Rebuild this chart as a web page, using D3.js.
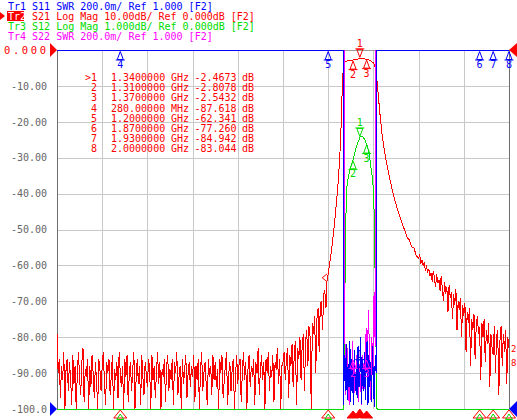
<!DOCTYPE html>
<html><head><meta charset="utf-8">
<script src="https://cdn.jsdelivr.net/npm/d3@7"></script>
<style>html,body{margin:0;padding:0;background:#fff}svg{display:block}text{font-family:"DejaVu Sans Mono",monospace}</style>
</head><body><svg id="c" width="517" height="420"></svg>
<script>
// ---------- data ----------
const freqGrid = [200,400,600,800,1000,1200,1400,1600,1800];
const dbTicks = [0,-10,-20,-30,-40,-50,-60,-70,-80,-90,-100];
const dbTickLabels = ["0.000","-10.00","-20.00","-30.00","-40.00","-50.00","-60.00","-70.00","-80.00","-90.00","-100.0"];

const headerText = ["Tr1 S11 SWR 200.0m/ Ref 1.000 [F2]","Tr2 S21 Log Mag 10.00dB/ Ref 0.000dB [F2]","Tr3 S12 Log Mag 1.000dB/ Ref 0.000dB [F2]","Tr4 S22 SWR 200.0m/ Ref 1.000 [F2]"];

const markerIds = [">1","2","3","4","5","6","7","8"];
const markerFreq = [1340,1310,1370,280,1200,1870,1930,2000];
const markerStim = ["1.3400000","1.3100000","1.3700000","280.00000","1.2000000","1.8700000","1.9300000","2.0000000"];
const markerUnit = ["GHz","GHz","GHz","MHz","GHz","GHz","GHz","GHz"];
const markerValText = ["-2.4673","-2.8078","-2.5432","-87.618","-62.341","-77.260","-84.942","-83.044"];
const markerDb = [-2.4673,-2.8078,-2.5432,-87.618,-62.341,-77.260,-84.942,-83.044];

// S21 noise floor 0..995 MHz, 5 MHz step
const s21LowDb = [
-79,-90,-86,-97,-88,-92,-84,-100,-89,-86,-95,-87,-91,-99,-85,-93,-88,-101,-90,-84,
-92,-96,-87,-83,-98,-89,-91,-86,-100,-88,-94,-85,-90,-97,-87,-92,-102,-86,-89,-95,
-88,-84,-93,-99,-87,-90,-86,-96,-91,-85,-100,-89,-92,-87,-97,-84,-90,-94,-88,-101,
-86,-91,-85,-98,-90,-87,-95,-89,-84,-100,-92,-86,-93,-88,-99,-85,-91,-96,-87,-90,
-94,-86,-89,-100,-85,-92,-88,-97,-90,-84,-93,-87,-102,-89,-91,-86,-98,-88,-85,-95,
-89,-92,-86,-99,-87,-90,-84,-96,-91,-88,-101,-86,-93,-89,-85,-97,-90,-87,-94,-88,
-91,-85,-98,-88,-92,-86,-100,-89,-84,-95,-90,-87,-93,-99,-86,-91,-88,-96,-85,-92,
-87,-94,-89,-101,-86,-90,-85,-97,-92,-88,-84,-99,-90,-87,-95,-89,-86,-100,-91,-85,
-93,-88,-86,-98,-90,-84,-92,-87,-100,-89,-85,-94,-88,-91,-86,-99,-87,-90,-83,-96,
-89,-85,-92,-87,-100,-86,-90,-84,-95,-88,-91,-85,-98,-87,-89,-83,-93,-86,-101,-88];
// S21 rising region 1000..1195 MHz, 5 MHz step
const s21RiseDb = [-87,-84,-92,-86,-83,-97,-85,-88,-82,-94,-84,-81,-99,-83,-86,-80,-92,-82,-79,-95,
-81,-78,-88,-77,-80,-100,-76,-79,-74,-90,-75,-72,-84,-71,-70,-78,-68,-67,-72,-64];
// S21 filter band
const s21BandF = [1200,1205,1210,1215,1220,1225,1230,1235,1240,1245,1250,1255,1258,1261,1264,1267,1270,1275,1280,1290,1300,1310,1320,1330,1340,1350,1360,1370,1380,1390,1400,1405,1410,1415,1420,1425,1430,1435,1440,1450,1460,1470,1480,1490,1500,1510,1520,1530,1540,1550,1560,1570,1580,1590];
const s21BandDb = [-62.34,-60,-58,-55.5,-53,-50,-47,-43.5,-40,-36,-31,-25,-19,-13,-8,-5,-3.8,-3.3,-3.1,-2.95,-2.88,-2.81,-2.65,-2.52,-2.47,-2.46,-2.5,-2.54,-2.75,-3.1,-3.6,-4.2,-5.5,-8,-11.5,-15,-18.5,-21.5,-24.3,-28.6,-32,-35.2,-38,-40.6,-43,-45,-47,-48.8,-50.5,-52.3,-53,-54.9,-55.2,-57.4];
// S21 upper stopband 1600..2000 MHz, 5 MHz step
const s21HighDb = [
-58,-57,-59.5,-58.5,-60,-59,-61.5,-60,-62,-61,-63,-62,-64.5,-61.5,-63.5,-66,-62.5,-65,-64,-67,
-63,-66.5,-70,-64.5,-68,-66,-73,-65.5,-69,-67.5,-75,-68,-71,-66.5,-78,-70,-72.5,-69,-80,-71,
-74,-70.5,-84,-73,-76,-72,-88,-75,-78,-73.5,-86,-77,-74,-79,-77.26,-92,-76,-80,-75,-87,
-78,-82,-76,-94,-79,-83,-84.94,-77,-90,-80,-78,-96,-81,-77,-88,-79,-84,-78,-93,-80,-83.04];

// S12 (1 dB/div)
const s12F = [0,1000,1250,1262,1268,1272,1276,1279,1283,1290,1296,1303,1310,1320,1330,1341,1348,1354,1362,1372,1380,1385,1392,1398,1403,1406,1409,1412,1416,1430,2000];
const s12Db = [-85,-80,-30,-15,-10.5,-7.5,-5.8,-4.46,-3.8,-3.5,-3.34,-3.2,-3.06,-2.8,-2.6,-2.42,-2.4,-2.43,-2.5,-2.65,-2.85,-3.06,-3.4,-3.7,-4.46,-5.5,-7,-8.5,-11,-30,-83];

// S11 SWR
const s11F = [0,1000,1260,1266,1268,1272,1276,1280,1284,1288,1292,1296,1300,1304,1308,1312,1316,1320,1324,1328,1332,1336,1340,1344,1348,1352,1356,1360,1364,1368,1372,1376,1380,1384,1388,1392,1396,1400,1404,1408,1412,1414,1420,2000];
const s11Swr = [8,12,6,4,1.02,1.3,1.1,1.36,1.05,1.25,1.12,1.38,1.04,1.28,1.15,1.02,1.33,1.1,1.22,1.06,1.35,1.12,1.16,1.4,1.03,1.27,1.1,1.32,1.05,1.24,1.38,1.02,1.3,1.12,1.26,1.04,1.35,1.15,1.01,1.3,1.2,4,8,10];

// S22 SWR
const s22F = [0,1000,1262,1271,1272,1275,1278,1283,1288,1293,1298,1303,1308,1313,1318,1323,1328,1333,1338,1343,1348,1353,1358,1363,1368,1373,1378,1383,1388,1393,1398,1403,1408,1411,1420,2000];
const s22Swr = [9,11,7,4,1.6,1.3,1.08,1.35,1.15,1.02,1.28,1.1,1.38,1.05,1.22,1.12,1.32,1.04,1.25,1.15,1.02,1.3,1.1,1.2,1.45,1.25,1.55,1.3,1.05,1.4,1.2,1.65,1.35,4,8,10];

// ---------- build series ----------
const zip = (f, v) => f.slice(0, Math.min(f.length, v.length)).map((ff, i) => ({f: ff, v: v[i]}));
const s21 = [].concat(
  zip(d3.range(0, 1000, 5), s21LowDb),
  zip(d3.range(1000, 1200, 5), s21RiseDb),
  zip(s21BandF, s21BandDb),
  zip(d3.range(1600, 2001, 5), s21HighDb));
const s12 = zip(s12F, s12Db);
const s11 = zip(s11F, s11Swr);
const s22 = zip(s22F, s22Swr);

function interp(series, f) {
  const i = d3.bisector(d => d.f).left(series, f);
  if (i <= 0) return series[0].v;
  if (i >= series.length) return series[series.length - 1].v;
  const a = series[i - 1], b = series[i];
  return a.v + (b.v - a.v) * (f - a.f) / (b.f - a.f);
}

// ---------- drawing ----------
const L = 57, R = 509, T = 50, B = 409;
const BLUE = "#0000ff", RED = "#ff0000", GREEN = "#00dc00", MAG = "#ff00ff";
const svg = d3.select("#c");
const x = d3.scaleLinear().domain([0, 2000]).range([L, R]);
const yDb = d3.scaleLinear().domain([-100, 0]).range([B, T]).clamp(true);
const yS12 = d3.scaleLinear().domain([-10, 0]).range([B, T]).clamp(true);
const ySwr = d3.scaleLinear().domain([1, 3]).range([B, T]).clamp(true);

// grid
svg.append("g").attr("transform", `translate(0,${B})`)
  .call(d3.axisBottom(x).tickValues(freqGrid).tickSize(-(B - T)).tickFormat(""))
  .call(g => g.select(".domain").remove())
  .selectAll("line").attr("stroke", "#c8c8c8").attr("shape-rendering", "crispEdges");
svg.append("g").attr("transform", `translate(${L},0)`)
  .call(d3.axisLeft(yDb).tickValues(dbTicks.slice(1, -1)).tickSize(-(R - L)).tickFormat(""))
  .call(g => g.select(".domain").remove())
  .selectAll("line").attr("stroke", "#c8c8c8").attr("shape-rendering", "crispEdges");

// frame
const frame = svg.append("g").attr("stroke", "#6e6e6e").attr("shape-rendering", "crispEdges");
frame.append("line").attr("x1", L).attr("x2", L).attr("y1", T).attr("y2", B);
frame.append("line").attr("x1", R).attr("x2", R).attr("y1", T).attr("y2", B);
frame.append("line").attr("x1", L).attr("x2", R).attr("y1", T).attr("y2", T).attr("stroke", "#9a9a9a");

// y labels
const ya = svg.append("g").attr("transform", "translate(47,0)")
  .call(d3.axisLeft(yDb).tickValues(dbTicks).tickSize(0).tickPadding(0).tickFormat((d, i) => dbTickLabels[i]))
  .call(g => g.select(".domain").remove());
ya.selectAll("text").attr("font-family", '"DejaVu Sans Mono",monospace').attr("font-size", 10).attr("fill", "#666");
ya.selectAll(".tick").filter(d => d === 0).select("text")
  .attr("fill", RED).attr("font-size", 10.5).attr("text-anchor", "start").attr("x", -43)
  .attr("textLength", 42).attr("lengthAdjust", "spacing");

// traces
const traces = svg.append("g").attr("fill", "none").attr("stroke-width", 1).attr("shape-rendering", "crispEdges");
traces.append("path").datum(s12).attr("stroke", GREEN)
  .attr("d", d3.line().x(d => x(d.f)).y(d => yS12(d.v)));
traces.append("path").datum(s21).attr("stroke", RED)
  .attr("d", d3.line().x(d => x(d.f)).y(d => yDb(d.v)));
traces.append("path").datum(s22).attr("stroke", MAG)
  .attr("d", d3.line().x(d => x(d.f)).y(d => ySwr(d.v)));
traces.append("path").datum(s11).attr("stroke", BLUE)
  .attr("d", d3.line().x(d => x(d.f)).y(d => ySwr(d.v)));

// marker glyphs
const mk = svg.append("g");
function marker(cx, cy, label, color, dir) {
  const g = mk.append("g").attr("fill", "none").attr("stroke", color).attr("stroke-width", 1);
  if (dir === "up") {
    g.append("path").attr("d", `M${cx},${cy}L${cx - 3},${cy + 8}L${cx + 3},${cy + 8}Z M${cx - 4.5},${cy + 8.5}H${cx + 4.5}`);
    mk.append("text").attr("x", cx).attr("y", cy + 16.5).attr("text-anchor", "middle").attr("font-size", 10).attr("fill", color).text(label);
  } else {
    g.append("path").attr("d", `M${cx},${cy}L${cx - 3},${cy - 8}L${cx + 3},${cy - 8}Z M${cx - 4.5},${cy - 8.5}H${cx + 4.5}`);
    mk.append("text").attr("x", cx).attr("y", cy - 10).attr("text-anchor", "middle").attr("font-size", 10).attr("fill", color).text(label);
  }
}
const ids = markerIds.map(s => s.replace(">", ""));
// Tr1 markers clipped to top
[3, 4, 5, 6, 7].forEach(i => marker(x(markerFreq[i]), T + 1.5, ids[i], BLUE, "up"));
// Tr2 markers
marker(x(markerFreq[0]), yDb(markerDb[0]) - 1.5, ids[0], RED, "down");
[1, 2].forEach(i => marker(x(markerFreq[i]), yDb(markerDb[i]) + 1, ids[i], RED, "up"));
// Tr3 markers
marker(x(markerFreq[0]), yS12(interp(s12, markerFreq[0])) - 1, ids[0], GREEN, "down");
[1, 2].forEach(i => marker(x(markerFreq[i]), yS12(interp(s12, markerFreq[i])) + 1, ids[i], GREEN, "up"));
// Tr1 / Tr4 passband markers
marker(x(markerFreq[0]), 368, ids[0], BLUE, "down");
[1, 2].forEach(i => marker(x(markerFreq[i]), 360, ids[i], MAG, "up"));
// Tr2 marker 5 on skirt
mk.append("path").attr("d", `M${x(markerFreq[4]) - 1},${yDb(markerDb[4])}l-5,4l5,4`).attr("fill", "none").attr("stroke", RED);

// bottom indicator triangles (off-scale markers of Tr3)
const bt = svg.append("g");
[3, 4, 5, 6, 7].forEach(i => {
  const cx = x(markerFreq[i]);
  bt.append("path").attr("d", `M${cx},${B + 1}L${cx - 6.5},${B + 9}L${cx + 6.5},${B + 9}Z`).attr("fill", "none").attr("stroke", RED);
  bt.append("path").attr("d", `M${cx},${B + 5}L${cx - 3.5},${B + 10.5}L${cx + 3.5},${B + 10.5}Z`).attr("fill", "none").attr("stroke", GREEN);
});
[1, 2].forEach(i => {
  const cx = x(markerFreq[i]);
  bt.append("path").attr("d", `M${cx},${B + 2}L${cx - 6},${B + 9}L${cx + 6},${B + 9}Z`).attr("fill", RED).attr("stroke", RED);
});
{
  const cx = x(markerFreq[0]);
  bt.append("path").attr("d", `M${cx},${B}L${cx - 6},${B + 8.5}L${cx + 6},${B + 8.5}Z`).attr("fill", RED).attr("stroke", RED);
}

// reference position triangles
svg.append("path").attr("d", `M50,43L57,50L50,57Z`).attr("fill", RED);
svg.append("path").attr("d", `M517,43L509,50L517,57Z`).attr("fill", RED);
svg.append("path").attr("d", `M50,402L57,409L50,416Z`).attr("fill", BLUE);
svg.append("path").attr("d", `M517,401L509,409L517,417Z`).attr("fill", BLUE);

// right edge marker labels of Tr2
svg.append("text").attr("x", 511).attr("y", 352).attr("font-size", 9).attr("fill", RED).text("2");
svg.append("text").attr("x", 511).attr("y", 366).attr("font-size", 9).attr("fill", RED).text("8");

// header
const hdrColors = [BLUE, RED, GREEN, MAG];
svg.append("rect").attr("x", 7).attr("y", 11).attr("width", 17).attr("height", 10).attr("fill", RED);
svg.append("path").attr("d", "M0,12L5,16L0,20Z").attr("fill", RED);
headerText.forEach((t, i) => {
  const tx = svg.append("text").attr("x", 8).attr("y", 9.5 + i * 10).attr("font-size", 10).attr("fill", hdrColors[i]).attr("xml:space", "preserve");
  if (i === 1) {
    tx.append("tspan").attr("fill", "#fff").text(t.slice(0, 3));
    tx.append("tspan").text(t.slice(3));
  } else tx.text(t);
});

// marker table
const tbl = svg.append("g").attr("fill", RED).attr("font-size", 10);
markerIds.forEach((id, i) => {
  const yb = 81 + i * 10.2;
  tbl.append("text").attr("x", 97).attr("y", yb).attr("text-anchor", "end").text(id);
  tbl.append("text").attr("x", 111).attr("y", yb).text(markerStim[i]);
  tbl.append("text").attr("x", 171).attr("y", yb).text(markerUnit[i]);
  tbl.append("text").attr("x", 194.5).attr("y", yb).text(markerValText[i]);
  tbl.append("text").attr("x", 242).attr("y", yb).text("dB");
});
</script></body></html>
